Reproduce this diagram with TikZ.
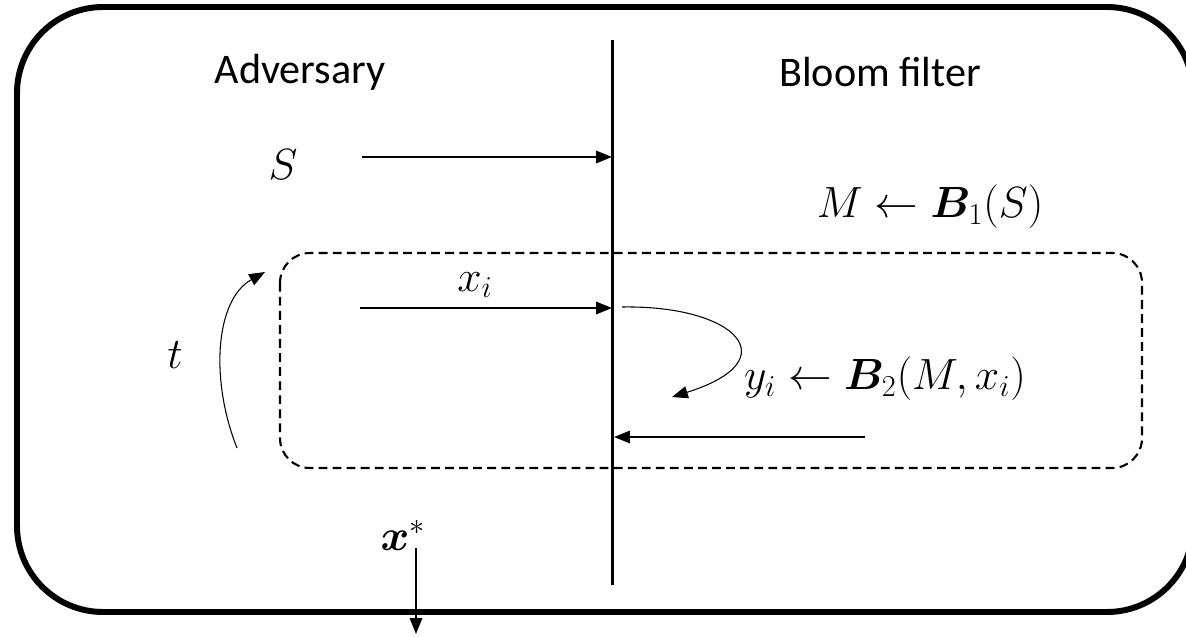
\documentclass[tikz,border=0pt]{standalone}
\usepackage{amsmath}
\usepackage{bm}
\usepackage{fontspec}
\setmainfont{Carlito}
\usetikzlibrary{
  arrows.meta,
  positioning
}

\begin{document}
\begin{tikzpicture}[
  x=0.02cm, y=-0.02cm,
  every node/.style={font=\fontsize{24}{28}\selectfont},
  frame/.style={line width=3.4pt, rounded corners=49pt},
  divider/.style={line width=1.7pt},
  query/.style={draw, dashed, line width=1.2pt, dash pattern=on 5pt off 3pt,
                rounded corners=17pt},
  msg/.style={-{Triangle[length=9pt,width=7pt]}, line width=1.1pt},
  loop/.style={-{Triangle[length=9pt,width=7pt]}, line width=0.6pt}
]

\useasboundingbox (0,0) rectangle (1186,636);

% outer frame and the two parties
\draw[frame] (17,7) rectangle (1193,612);
\coordinate (top) at (612,40);
\coordinate (bot) at (612,585);
\draw[divider] (top) -- (bot);

\node (adv)   at (300,72) {Adversary};
\node (bloom) at (880,72) {Bloom filter};

% setup
\node (S) at (283,165) {$S$};
\node (M) at (930,207) {$M \leftarrow \bm{B}_1(S)$};
\coordinate (sOut) at (362,157);
\coordinate (sIn)  at (612,157);
\draw[msg] (sOut) -- (sIn);

% query phase
\draw[query] (280,253) rectangle (1142,468);

\node (xi) at (475,285) {$x_i$};
\coordinate (xOut) at (360,308);
\coordinate (xIn)  at (612,308);
\draw[msg] (xOut) -- (xIn);

\coordinate (qStart) at (622,307);
\coordinate (qEnd)   at (672,397);
\draw[loop] (qStart) .. controls (735,305) and (790,360) .. (qEnd);

\node (yi) at (885,379) {$y_i \leftarrow \bm{B}_2(M,x_i)$};
\coordinate (yOut) at (865,437);
\coordinate (yIn)  at (614,437);
\draw[msg] (yOut) -- (yIn);

\node (t) at (175,355) {$t$};
\coordinate (tStart) at (237,448);
\coordinate (tEnd)   at (265,272);
\draw[loop] (tStart) .. controls (210,380) and (215,300) .. (tEnd);

% output
\node (xs) at (403,535) {$\bm{x}^*$};
\coordinate (xsOut) at (416,548);
\coordinate (xsEnd) at (416,634);
\draw[msg] (xsOut) -- (xsEnd);

\end{tikzpicture}
\end{document}
